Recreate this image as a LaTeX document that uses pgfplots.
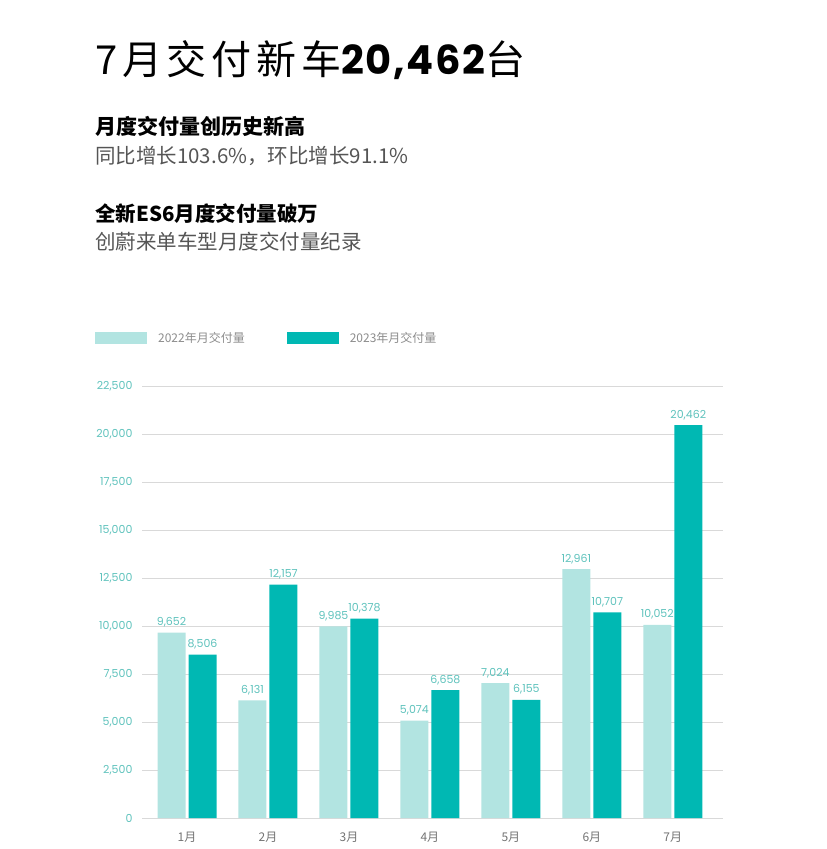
\documentclass[border=0pt]{standalone}
\usepackage{fontspec}
\usepackage{pgfplots}
\pgfplotsset{compat=1.18}
\setmainfont{Noto Sans CJK SC}
\newfontfamily\num{Poppins}
\newfontfamily\titlecjk[LetterSpace=12]{Noto Sans CJK SC}
\newfontfamily\titlenum[LetterSpace=4]{Poppins}
\definecolor{lightbar}{HTML}{B2E4E1}
\definecolor{darkbar}{HTML}{00B8B3}
\definecolor{ticktxt}{HTML}{5EC2BC}
\definecolor{subtxt}{HTML}{555555}

\begin{document}
\begin{tikzpicture}
\useasboundingbox (0,0) rectangle (827pt,849pt);

% header texts
\node[anchor=base west, inner sep=0pt] at (95pt,774pt)
  {\fontsize{40}{42}\selectfont\titlecjk 7月交付新车{\titlenum\bfseries 20,462}台};
\node[anchor=base west, inner sep=0pt] at (95pt,714pt)
  {\fontsize{21}{22}\selectfont\bfseries 月度交付量创历史新高};
\node[anchor=base west, inner sep=0pt, text=subtxt] at (95pt,685pt)
  {\fontsize{20.5}{22}\selectfont 同比增长103.6\%，环比增长91.1\%};
\node[anchor=base west, inner sep=0pt] at (95pt,627pt)
  {\fontsize{20.5}{22}\selectfont\bfseries 全新ES6月度交付量破万};
\node[anchor=base west, inner sep=0pt, text=subtxt] at (95pt,599pt)
  {\fontsize{20.5}{22}\selectfont 创蔚来单车型月度交付量纪录};

\begin{axis}[
  at={(142pt,31pt)}, anchor=south west,
  scale only axis, width=581pt, height=432pt,
  ybar=3pt, bar width=28pt,
  xmin=0.444, xmax=7.62, ymin=0, ymax=22500,
  xtick={1,...,7},
  xticklabels={1月,2月,3月,4月,5月,6月,7月},
  ytick={0,2500,...,22500},
  scaled y ticks=false,
  axis line style={draw=none},
  major tick style={draw=none},
  ymajorgrids, grid style={color=black!15, line width=0.8pt},
  /pgf/number format/.cd, 1000 sep={,}, assume math mode=true, /pgfplots/.cd,
  y tick label style={font=\num\fontsize{11}{11}\selectfont, text=ticktxt, xshift=-6pt},
  x tick label style={font=\fontsize{12}{12}\selectfont, text=black!55, yshift=-6pt},
  nodes near coords,
  every node near coord/.append style={font=\num\fontsize{11}{11}\selectfont, text=ticktxt, yshift=2pt},
  clip=false,
  legend columns=2,
  legend cell align=left,
  legend image code/.code={\fill[#1] (0pt,-6pt) rectangle (52pt,6pt);},
  legend style={at={(-0.081,1.111)}, anchor=west, draw=none, fill=none, inner sep=0pt,
    font=\fontsize{12}{12}\selectfont, text=black!45,
    /tikz/every odd column/.append style={column sep=9pt},
    /tikz/every even column/.append style={column sep=40pt}},
]
\addplot[fill=lightbar, draw=none] coordinates {
  (1,9652) (2,6131) (3,9985) (4,5074) (5,7024) (6,12961) (7,10052)
};
\addplot[fill=darkbar, draw=none] coordinates {
  (1,8506) (2,12157) (3,10378) (4,6658) (5,6155) (6,10707) (7,20462)
};
\legend{2022年月交付量,2023年月交付量}
\end{axis}
\end{tikzpicture}
\end{document}
